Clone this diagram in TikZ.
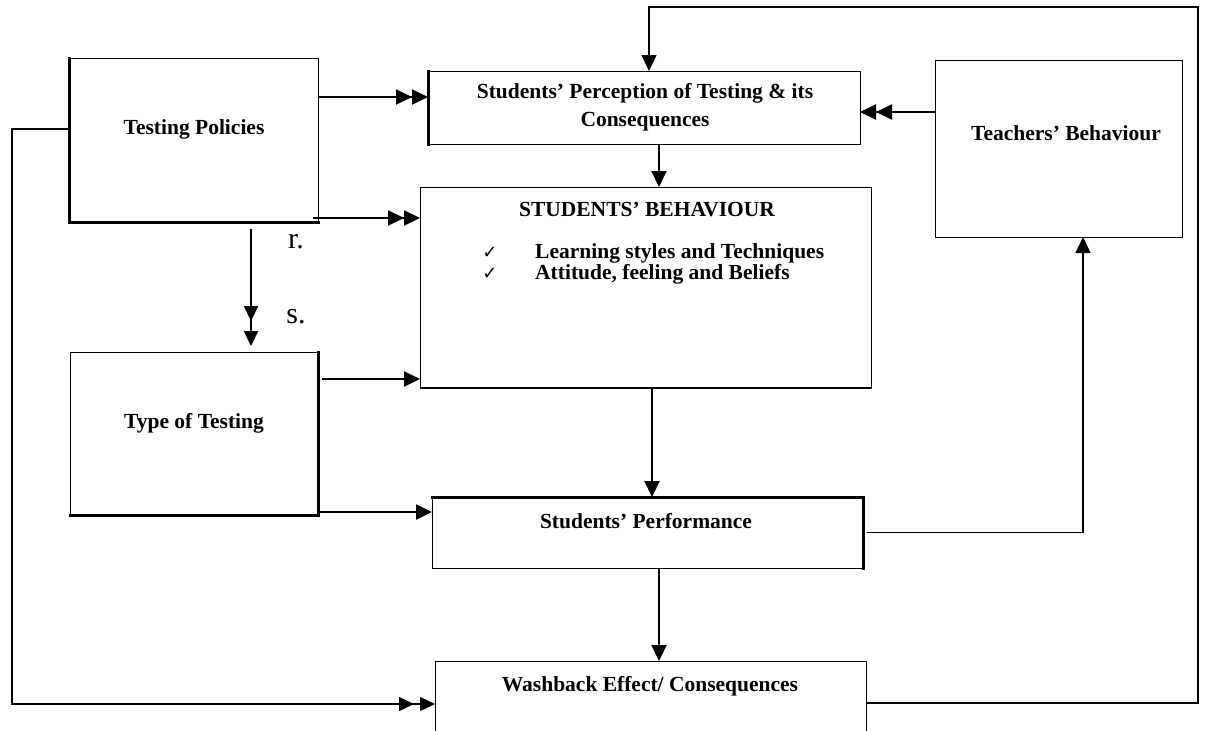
\documentclass[tikz,border=0pt]{standalone}
\usepackage{fontspec}
\setmainfont{Liberation Serif}
\newfontfamily\symfont{DejaVu Sans}
\usetikzlibrary{arrows.meta,calc}
\begin{document}
\begin{tikzpicture}[x=1pt,y=-1pt,
  box/.style={draw, line width=1pt, inner sep=0pt, outer sep=0pt},
  edge/.style={line width=3pt, line cap=rect},
  txt/.style={font=\fontsize{21.5}{28}\selectfont\bfseries, align=center, inner sep=0pt},
  rs/.style={font=\fontsize{30}{32}\selectfont, inner sep=0pt},
  conn/.style={line width=2.2pt},
  one/.style={conn, -{Triangle[length=16pt,width=15pt]}},
  two/.style={conn, -{Triangle[length=16pt,width=15pt]Triangle[length=16pt,width=15pt]}},
  twogap/.style={conn, -{Triangle[length=15pt,width=14pt,sep=#1]Triangle[length=15pt,width=14pt]}},
  loop/.style={line width=1.3pt}
]
\clip (0,0) rectangle (1205,731);
\fill[white] (0,0) rectangle (1205,731);

% boxes
\node[box, minimum width=249pt, minimum height=164pt] (tp) at (193.5,140) {};
\node[box, minimum width=432pt, minimum height=73pt] (perc) at (644,107.5) {};
\node[box, minimum width=451pt, minimum height=201pt] (sb) at (645.5,287.5) {};
\node[box, minimum width=247pt, minimum height=177pt] (tb) at (1058.5,148.5) {};
\node[box, minimum width=248pt, minimum height=163pt] (tot) at (194,433.5) {};
\node[box, minimum width=431pt, minimum height=71pt] (perf) at (647.5,532.5) {};
\node[box, minimum width=431pt, minimum height=90pt] (wb) at (650.5,706) {};

% heavier edges
\draw[edge] (tp.north west) -- (tp.south west) -- (tp.south east);
\draw[edge] (perc.north west) -- (perc.south west);
\draw[edge] (tot.north east) -- (tot.south east) -- (tot.south west);
\draw[edge] (perf.north west) -- (perf.north east) -- (perf.south east);
\draw[line width=2pt] (sb.south west) -- (sb.south east);

% texts
\node[txt] (tpt) at (194,129) {Testing Policies};
\node[txt] (perct) at (645,107) {Students’ Perception of Testing \& its\\Consequences};
\node[txt] (sbt) at (647,210) {STUDENTS’ BEHAVIOUR};
\node[txt, anchor=west] (b1) at (535,253) {Learning styles and Techniques};
\node[txt, anchor=west] (b2) at (535,274) {Attitude, feeling and Beliefs};
\node[inner sep=0pt, font=\symfont\fontsize{18}{18}\selectfont] (c1) at (490,253) {✓};
\node[inner sep=0pt, font=\symfont\fontsize{18}{18}\selectfont] (c2) at (490,274) {✓};
\node[txt] (tbt) at (1066,133) {Teachers’ Behaviour};
\node[txt] (tott) at (194,423) {Type of Testing};
\node[txt] (perft) at (646,521) {Students’ Performance};
\node[txt] (wbt) at (650,686) {Washback Effect/ Consequences};
\node[rs] (r) at (296,242) {r.};
\node[rs] (s) at (296,317) {s.};

% connectors
\draw[two] (tp.east |- 0,97) -- (perc.west |- 0,97);
\draw[two] ($(tp.east |- 0,218)+(-5,0)$) -- (sb.west |- 0,218);
\draw[twogap=10pt, shorten >=6pt] ($(tp.south -| 251,0)+(0,7)$) -- (tot.north -| 251,0);
\draw[one] ($(tot.east |- 0,379)+(4,0)$) -- (sb.west |- 0,379);
\draw[one] (tot.east |- 0,512) -- (perf.west |- 0,512);
\draw[one] (perc.south -| 659,0) -- (sb.north -| 659,0);
\draw[one] (sb.south -| 652,0) -- (perf.north -| 652,0);
\draw[one] (perf.south -| 659,0) -- (wb.north -| 659,0);
\draw[two] (tb.west |- 0,112) -- (perc.east |- 0,112);
\draw[loop, -{Triangle[length=16pt,width=15pt]}] ($(perf.east)+(4,0)$) -| (tb.south -| 1083,0);
\draw[loop, -{Triangle[length=15pt,width=14pt,sep=6pt]Triangle[length=15pt,width=14pt]}] (tp.west |- 0,129) -- ++(-57,0) |- (wb.west |- 0,704);
\draw[loop, -{Triangle[length=16pt,width=15pt]}] (wb.east |- 0,703) -- ++(332,0) -- ++(0,-696) -| (perc.north -| 649,0);
\end{tikzpicture}
\end{document}
